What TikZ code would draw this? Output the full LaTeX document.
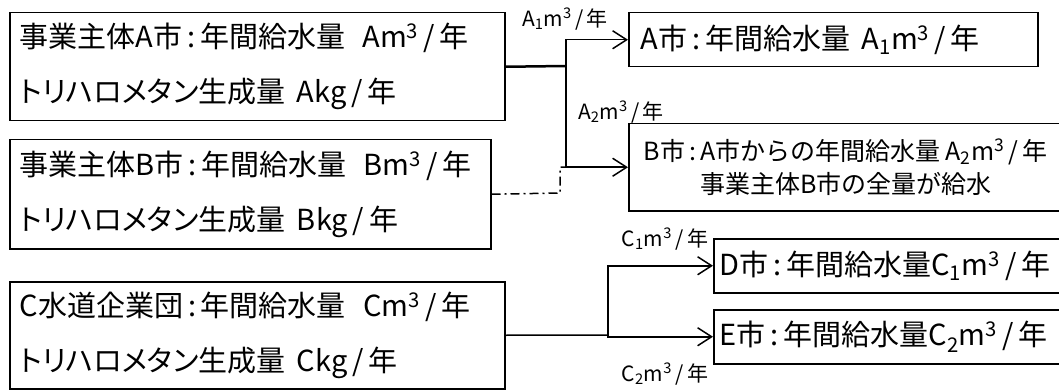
\documentclass[tikz,border=0pt]{standalone}
\usepackage{fontspec}
\setmainfont{Noto Sans CJK JP}
\newfontfamily\kana[RawFeature=+palt]{Noto Sans CJK JP}
\usetikzlibrary{arrows.meta}

\begin{document}
\begin{tikzpicture}[x=1pt,y=-1pt,
    box/.style={draw,line width=1.5pt,anchor=north west,inner ysep=0pt},
    big/.style={font=\fontsize{29}{55}\selectfont},
    mid/.style={font=\fontsize{25}{33}\selectfont},
    flow/.style={line width=1.5pt},
    tip/.style={-{Straight Barb[length=14pt,width=18pt]}},
    dashdot/.style={dash pattern=on 9pt off 4pt on 2pt off 4pt},
    lbl/.style={font=\fontsize{21}{22}\selectfont,inner sep=0pt}]
    \useasboundingbox (0,0) rectangle (1059,390);

    \node[box,big,align=left,text width=475pt,inner xsep=10pt,minimum height=108pt] (srcA) at (9,12)
        {事業主体A市\,:\,年間給水量\hspace{0.6em}Am\textsuperscript{3}\,/\,年\\
         {\kana トリハロメタン}生成量\hspace{0.4em}Akg\,/\,年};
    \node[box,big,align=left,text width=461pt,inner xsep=10pt,minimum height=109pt] (srcB) at (9,139)
        {事業主体B市\,:\,年間給水量\hspace{0.6em}Bm\textsuperscript{3}\,/\,年\\
         {\kana トリハロメタン}生成量\hspace{0.4em}Bkg\,/\,年};
    \node[box,big,align=left,text width=475pt,inner xsep=10pt,minimum height=107pt] (srcC) at (9,281)
        {C水道企業団\,:\,年間給水量\hspace{0.6em}Cm\textsuperscript{3}\,/\,年\\
         {\kana トリハロメタン}生成量\hspace{0.4em}Ckg\,/\,年};

    \node[box,big,align=left,text width=385pt,inner xsep=12pt,minimum height=54pt] (dstA) at (628,12)
        {A市\,:\,年間給水量\hspace{0.4em}A\textsubscript{1}m\textsuperscript{3}\,/\,年};
    \node[box,mid,align=center,text width=410pt,inner xsep=12pt,minimum height=87pt] (dstB) at (628,123)
        {B市\,:\,A市からの年間給水量\hspace{0.2em}A\textsubscript{2}m\textsuperscript{3}\,/\,年\\
         事業主体B市の全量が給水};
    \node[box,big,align=left,text width=337pt,inner xsep=6pt,minimum height=54pt] (dstD) at (713,238)
        {D市\,:\,年間給水量C\textsubscript{1}m\textsuperscript{3}\,/\,年};
    \node[box,big,align=left,text width=337pt,inner xsep=6pt,minimum height=54pt] (dstE) at (713,309)
        {E市\,:\,年間給水量C\textsubscript{2}m\textsuperscript{3}\,/\,年};

    \node[lbl] (lblA1) at (565,19) {A\textsubscript{1}m\textsuperscript{3}\,/\,年};
    \node[lbl] (lblA2) at (621,112) {A\textsubscript{2}m\textsuperscript{3}\,/\,年};
    \node[lbl] (lblC1) at (665,239) {C\textsubscript{1}m\textsuperscript{3}\,/\,年};
    \node[lbl] (lblC2) at (665,374) {C\textsubscript{2}m\textsuperscript{3}\,/\,年};

    \coordinate (splitA) at (566,66);
    \coordinate (bendB) at (560,193);
    \coordinate (splitC) at (608,335);

    \draw[flow,line width=2.5pt] (srcA.east) -- (splitA);
    \draw[flow,tip] (splitA) |- (dstA.west);
    \draw[flow,tip] (splitA) |- (dstB.west);
    \draw[flow,dashdot] (srcB.east) -- (bendB) |- (splitA |- dstB.west);
    \draw[flow] (srcC.east) -- (splitC);
    \draw[flow,tip] (splitC) |- (dstD.west);
    \draw[flow,tip] (splitC) |- (dstE.west);
\end{tikzpicture}
\end{document}
